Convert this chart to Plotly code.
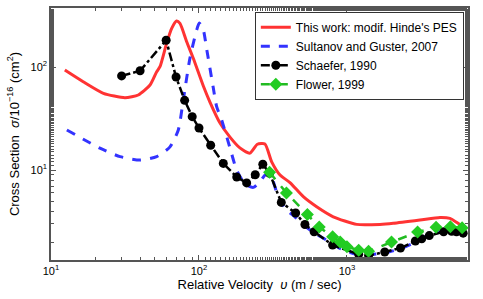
import plotly.graph_objects as go

# This work: modif. Hinde's PES
red_v = [12.4, 16.5, 22.6, 31.6, 38.9, 46.7, 51.8, 54.5, 60.5, 65.4, 70.5, 74.4, 82.6, 91.5,
         107, 118.6, 138.7, 162, 189, 221, 248, 279, 310, 353, 412, 507, 624, 808, 1164,
         1671, 2055, 3113, 4249, 4966, 5562, 6108]
red_s = [93.5, 72, 55.6, 50.4, 53.5, 66.9, 90, 100.7, 171, 237.5, 280, 265.7, 176, 121.5,
         65.4, 45.7, 28.6, 20.9, 16.4, 14.6, 17.8, 17.9, 12.0, 8.94, 7.56, 5.51, 4.40, 3.52,
         2.97, 2.97, 3.04, 3.27, 3.47, 3.40, 3.08, 2.80]

# Sultanov and Guster, 2007
blue_v = [12.8, 21.4, 29.3, 39.9, 51.8, 63.7, 72.5, 78.3, 86.9, 96.5, 100.5, 107, 112.7, 125,
          131.7, 142.3, 162, 179.7, 204.6, 232.8, 258, 279, 294, 310, 335, 381, 445, 520, 608,
          729, 897, 1104, 1288, 1806, 2316, 2925, 3637, 4476, 5120, 5623, 6108]
blue_s = [24.5, 16.3, 13.5, 12.5, 13.5, 16.8, 24.5, 47.8, 122, 229, 267, 229, 150, 62.5,
          41.2, 30.6, 16.4, 10, 7.31, 6.79, 7.70, 8.94, 9.29, 8.55, 6.11, 4.25, 3.52, 2.86, 2.43,
          2.09, 1.74, 1.55, 1.50, 1.57, 1.73, 2.0, 2.39, 2.50, 2.52, 2.50, 2.44]

# Schaefer, 1990
sch_v = [30, 40, 60, 70, 80, 90, 100, 120, 146, 180, 210, 240, 270, 300, 360, 450, 520, 600,
         800, 1200, 1400, 1800, 2300, 2900, 3200, 3600, 4500, 5100, 5500, 6100]
sch_s = [82, 92, 182, 80, 47.5, 33, 25.6, 17.4, 11.6, 8.55, 7.5, 9.0, 11.4, 9.3, 4.85, 3.83,
         2.96, 2.52, 1.87, 1.52, 1.48, 1.60, 1.75, 2.05, 2.15, 2.31, 2.52, 2.55, 2.52, 2.44]

# Flower, 1999
flo_v = [300, 390, 540, 650, 800, 900, 1000, 1200, 1400, 2000, 3000, 4000, 5000, 6000]
flo_s = [9.5, 6.0, 3.7, 2.8, 2.25, 2.0, 1.8, 1.67, 1.63, 2.0, 2.5, 2.78, 2.82, 2.75]

x_tickvals = [10, 100, 1000]
x_ticktext = ["10<sup>1</sup>", "10<sup>2</sup>", "10<sup>3</sup>"]
y_tickvals = [10, 100]
y_ticktext = ["10<sup>1</sup>", "10<sup>2</sup>"]

FONT = "Liberation Sans, Arial"

fig = go.Figure()
fig.add_trace(go.Scatter(x=red_v, y=red_s, mode="lines", name="This work: modif. Hinde's PES",
                         line=dict(color="#ff3333", width=3, shape="spline", smoothing=0.6)))
fig.add_trace(go.Scatter(x=blue_v, y=blue_s, mode="lines", name="Sultanov and Guster, 2007",
                         line=dict(color="#3333ff", width=3, dash="dash", shape="spline", smoothing=0.6)))
fig.add_trace(go.Scatter(x=sch_v, y=sch_s, mode="lines+markers", name="Schaefer, 1990",
                         line=dict(color="black", width=2.5, dash="dashdot"),
                         marker=dict(symbol="circle", size=9, color="black")))
fig.add_trace(go.Scatter(x=flo_v, y=flo_s, mode="lines+markers", name="Flower, 1999",
                         line=dict(color="#22bb22", width=2.5, dash="dash"),
                         marker=dict(symbol="diamond", size=10, color="#22cc22")))

axis_common = dict(showline=True, linecolor="#555555", linewidth=1.5, mirror="ticks",
                   ticks="inside", ticklen=5, tickcolor="#555555", showgrid=False, zeroline=False,
                   automargin=False,
                   tickfont=dict(family=FONT, size=11, color="black"),
                   minor=dict(ticks="inside", ticklen=3, tickcolor="#555555"))

fig.update_xaxes(type="log", range=[1, 3.818], tickvals=x_tickvals, ticktext=x_ticktext,
                 title=dict(text="Relative Velocity  <i>υ</i> (m / sec)", standoff=4,
                            font=dict(family=FONT, size=13, color="black")),
                 **axis_common)
fig.update_yaxes(type="log", range=[0.127, 2.573], tickvals=y_tickvals, ticktext=y_ticktext,
                 title=dict(text="Cross Section  <i>σ</i>/10<sup>−16</sup> (cm<sup>2</sup>)", standoff=8,
                            font=dict(family=FONT, size=13, color="black")),
                 **axis_common)

fig.update_layout(
    width=483, height=299,
    margin=dict(l=51, r=15, t=8, b=39),
    paper_bgcolor="white", plot_bgcolor="white",
    font=dict(family=FONT, color="black"),
    legend=dict(x=0.99, y=0.985, xanchor="right", yanchor="top",
                bordercolor="#333333", borderwidth=1, bgcolor="white",
                font=dict(size=12, family=FONT),
                tracegroupgap=0, itemwidth=30),
)

fig.write_html("out.html", config={"displayModeBar": False},
               post_script="document.body.style.margin='0px';")
